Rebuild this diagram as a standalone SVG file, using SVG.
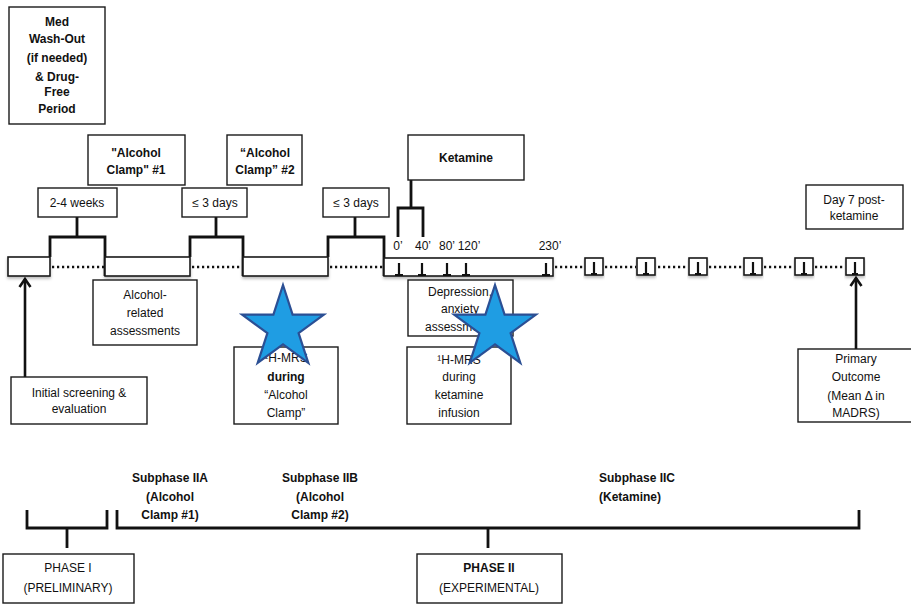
<svg xmlns="http://www.w3.org/2000/svg" width="911" height="605" viewBox="0 0 911 605">
  <defs>
    <style>
      .box { fill: #ffffff; stroke: #1a1a1a; stroke-width: 1.4; }
      .tl { fill: #ffffff; stroke: #1a1a1a; stroke-width: 1.6; }
      .br { fill: none; stroke: #111111; stroke-width: 2.8; stroke-linejoin: miter; }
      .dot { fill: none; stroke: #111111; stroke-width: 2.4; stroke-dasharray: 2.2 2.8; }
      .tick { fill: none; stroke: #111111; stroke-width: 2.2; }
      .arr { fill: none; stroke: #111111; stroke-width: 2.6; }
      text { font-family: "Liberation Sans", Arial, sans-serif; font-size: 12px; fill: #111111; text-anchor: middle; }
      .b { font-weight: bold; }
      .l { text-anchor: start; }
      .star { fill: #1f9de3; stroke: #2b4f94; stroke-width: 2.2; stroke-linejoin: miter; }
    </style>
    <filter id="sh" x="-10%" y="-20%" width="120%" height="160%">
      <feDropShadow dx="0" dy="2" stdDeviation="1.5" flood-color="#000000" flood-opacity="0.28"/>
    </filter>
    <marker id="ah" viewBox="0 0 14 14" refX="12" refY="7" markerWidth="14" markerHeight="14" markerUnits="userSpaceOnUse" orient="auto">
      <path d="M4,1.5 L12,7 L4,12.5" fill="none" stroke="#111111" stroke-width="2.6"/>
    </marker>
  </defs>

  <!-- timeline connectors, brackets and arrows -->
  <g id="connectors">
    <!-- dotted gaps along the timeline -->
    <path class="dot" d="M52,267 H104 M192,267 H242 M330,267 H383 M555,267 H584 M605,267 H636 M658,267 H688 M709,267 H743 M764,267 H794 M815,267 H845"/>
    <!-- interval brackets -->
    <path class="br" d="M77,217 V237 M50,257 V237 H105 V276"/>
    <path class="br" d="M216,217 V237 M190,257 V237 H243 V276"/>
    <path class="br" d="M355,217 V237 M328,257 V237 H384 V276"/>
    <path class="br" d="M411,180 V208 M398,237 V208 H423 V237"/>
    <!-- arrows into timeline -->
    <line class="arr" x1="25" y1="377" x2="25" y2="279" marker-end="url(#ah)"/>
    <line class="arr" x1="856" y1="349" x2="856" y2="278" marker-end="url(#ah)"/>
    <!-- phase brackets -->
    <path class="br" d="M27,510 V528 H107 V510 M67,528 V548"/>
    <path class="br" d="M117,510 V528 H859 V510 M488,528 V548"/>
  </g>

  <!-- timeline segments -->
  <g id="timeline">
    <rect class="tl" filter="url(#sh)" x="8" y="257" width="42" height="19"/>
    <rect class="tl" filter="url(#sh)" x="105" y="257" width="85" height="19"/>
    <rect class="tl" filter="url(#sh)" x="243" y="257" width="85" height="19"/>
    <rect class="tl" filter="url(#sh)" x="384" y="258" width="169" height="18"/>
    <path class="tick" d="M399,263 V275 M395,275 H403 M422,263 V275 M418,275 H426 M447,263 V275 M443,275 H451 M466,263 V275 M462,275 H470 M546,263 V275 M542,275 H550"/>
    <g id="days">
      <rect class="tl" filter="url(#sh)" x="585" y="258" width="18" height="17"/>
      <rect class="tl" filter="url(#sh)" x="637" y="258" width="18" height="17"/>
      <rect class="tl" filter="url(#sh)" x="689" y="258" width="18" height="17"/>
      <rect class="tl" filter="url(#sh)" x="744" y="258" width="18" height="17"/>
      <rect class="tl" filter="url(#sh)" x="795" y="258" width="18" height="17"/>
      <rect class="tl" filter="url(#sh)" x="846" y="258" width="18" height="17"/>
      <path class="tick" d="M594,262 V274 M591,274 H597 M646,262 V274 M643,274 H649 M698,262 V274 M695,274 H701 M753,262 V274 M750,274 H756 M804,262 V274 M801,274 H807 M855,262 V274 M852,274 H858"/>
    </g>
    <text x="398" y="250">0’</text>
    <text x="423" y="250">40’</text>
    <text x="447" y="250">80’</text>
    <text x="469" y="250">120’</text>
    <text x="550" y="250">230’</text>
  </g>

  <g id="washout">
    <rect class="box" x="9" y="7" width="96" height="117"/>
    <text class="b" x="57" y="26">Med</text>
    <text class="b" x="57" y="43">Wash-Out</text>
    <text class="b" x="57" y="62">(if needed)</text>
    <text class="b" x="57" y="81">&amp; Drug-</text>
    <text class="b" x="57" y="96">Free</text>
    <text class="b" x="57" y="113">Period</text>
  </g>

  <g id="clamp1">
    <rect class="box" x="88" y="135" width="97" height="50"/>
    <text class="b" x="136" y="157">"Alcohol</text>
    <text class="b" x="136" y="174">Clamp" #1</text>
  </g>

  <g id="clamp2">
    <rect class="box" x="227" y="135" width="75" height="50"/>
    <text class="b" x="265" y="157">“Alcohol</text>
    <text class="b" x="265" y="174">Clamp” #2</text>
  </g>

  <g id="ketamine">
    <rect class="box" x="408" y="135" width="116" height="45"/>
    <text class="b" x="466" y="162">Ketamine</text>
  </g>

  <g id="interval1">
    <rect class="box" x="38" y="188" width="79" height="29"/>
    <text x="77" y="207">2-4 weeks</text>
  </g>

  <g id="interval2">
    <rect class="box" x="182" y="188" width="65" height="29"/>
    <text x="215" y="207">≤ 3 days</text>
  </g>

  <g id="interval3">
    <rect class="box" x="323" y="188" width="66" height="29"/>
    <text x="356" y="207">≤ 3 days</text>
  </g>

  <g id="day7">
    <rect class="box" x="806" y="185" width="97" height="44"/>
    <text x="854" y="204">Day 7 post-</text>
    <text x="854" y="220">ketamine</text>
  </g>

  <g id="alcohol-assessments">
    <rect class="box" x="93" y="280" width="104" height="65"/>
    <text x="145" y="299">Alcohol-</text>
    <text x="145" y="317">related</text>
    <text x="145" y="335">assessments</text>
  </g>

  <g id="mood-assessments">
    <rect class="box" x="408" y="280" width="105" height="56"/>
    <text x="460" y="296">Depression,</text>
    <text x="460" y="313">anxiety</text>
    <text x="460" y="331">assessments</text>
  </g>

  <g id="screening">
    <rect class="box" x="11" y="377" width="136" height="47"/>
    <text x="79" y="397">Initial screening &amp;</text>
    <text x="79" y="413">evaluation</text>
  </g>

  <g id="mrs-clamp">
    <rect class="box" x="234" y="347" width="104" height="77"/>
    <text x="286" y="362">¹H-MRS</text>
    <text class="b" x="286" y="381">during</text>
    <text x="286" y="399">“Alcohol</text>
    <text x="286" y="417">Clamp”</text>
  </g>

  <g id="mrs-ketamine">
    <rect class="box" x="407" y="347" width="104" height="77"/>
    <text x="459" y="364">¹H-MRS</text>
    <text x="459" y="381">during</text>
    <text x="459" y="399">ketamine</text>
    <text x="459" y="417">infusion</text>
  </g>

  <g id="outcome">
    <rect class="box" x="798" y="349" width="120" height="73"/>
    <text x="856" y="363">Primary</text>
    <text x="856" y="381">Outcome</text>
    <text x="856" y="400">(Mean Δ in</text>
    <text x="856" y="417">MADRS)</text>
  </g>

  <g id="star-clamp">
    <polygon class="star" transform="translate(283,328)" points="0,-43 9.6,-13.3 40.9,-13.3 15.6,5.1 25.3,34.8 0,16.4 -25.3,34.8 -15.6,5.1 -40.9,-13.3 -9.6,-13.3"/>
  </g>

  <g id="star-ketamine">
    <polygon class="star" transform="translate(495,328)" points="0,-43 9.6,-13.3 40.9,-13.3 15.6,5.1 25.3,34.8 0,16.4 -25.3,34.8 -15.6,5.1 -40.9,-13.3 -9.6,-13.3"/>
  </g>

  <g id="subphases">
    <text class="b" x="170" y="482">Subphase IIA</text>
    <text class="b" x="170" y="501">(Alcohol</text>
    <text class="b" x="170" y="519">Clamp #1)</text>
    <text class="b" x="320" y="482">Subphase IIB</text>
    <text class="b" x="320" y="501">(Alcohol</text>
    <text class="b" x="320" y="519">Clamp #2)</text>
    <text class="b l" x="599" y="482">Subphase IIC</text>
    <text class="b l" x="599" y="501">(Ketamine)</text>
  </g>

  <g id="phase1">
    <rect class="box" x="3" y="554" width="131" height="49"/>
    <text x="68" y="572">PHASE I</text>
    <text x="68" y="592">(PRELIMINARY)</text>
  </g>

  <g id="phase2">
    <rect class="box" x="417" y="554" width="145" height="49"/>
    <text class="b" x="489" y="572">PHASE II</text>
    <text x="489" y="592">(EXPERIMENTAL)</text>
  </g>
</svg>
